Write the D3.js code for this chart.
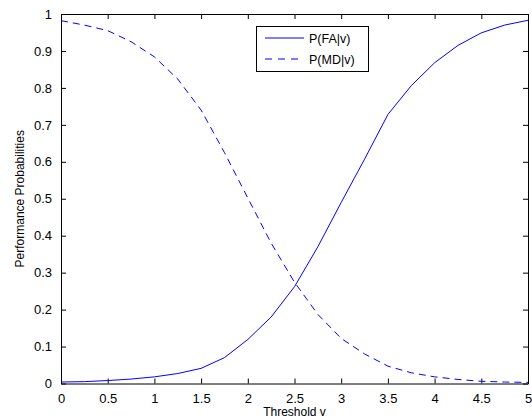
<!DOCTYPE html>
<html>
<head>
<meta charset="utf-8">
<script src="https://cdn.jsdelivr.net/npm/d3@7"></script>
<style>
  html, body { margin: 0; padding: 0; background: #fff; }
  svg { display: block; font-family: "Liberation Sans", Arial, Helvetica, sans-serif; }
</style>
</head>
<body>
<svg id="chart" width="532" height="420"></svg>
<script>
// Threshold values and the two performance probabilities
const thresholds = [0, 0.25, 0.5, 0.75, 1, 1.25, 1.5, 1.75, 2, 2.25, 2.5, 2.75, 3, 3.25, 3.5, 3.75, 4, 4.25, 4.5, 4.75, 5];
const pFalseAlarm = [0.004, 0.005, 0.008, 0.012, 0.018, 0.027, 0.041, 0.070, 0.119, 0.180, 0.262, 0.370, 0.490, 0.607, 0.728, 0.806, 0.868, 0.915, 0.949, 0.970, 0.983];
const pMissedDetection = [0.982, 0.970, 0.955, 0.925, 0.884, 0.824, 0.740, 0.625, 0.502, 0.380, 0.274, 0.187, 0.122, 0.080, 0.047, 0.029, 0.018, 0.011, 0.006, 0.004, 0.003];
const xTicks = [0, 0.5, 1, 1.5, 2, 2.5, 3, 3.5, 4, 4.5, 5];
const yTicks = [0, 0.1, 0.2, 0.3, 0.4, 0.5, 0.6, 0.7, 0.8, 0.9, 1];
const seriesNames = ["P(FA|v)", "P(MD|v)"];

const svg = d3.select("#chart");
const plot = { left: 61, right: 528, top: 14, bottom: 383.5 };

const x = d3.scaleLinear().domain([0, 5]).range([plot.left, plot.right]);
const y = d3.scaleLinear().domain([0, 1]).range([plot.bottom, plot.top]);

const tickLen = 5;
const dashPattern = "7,5";
const fmt = d => d3.format("")(d);

// Axes: ticks point inward, box closed on all sides
const bottomAxis = d3.axisBottom(x).tickValues(xTicks).tickFormat(fmt).tickSizeInner(-tickLen).tickSizeOuter(0).tickPadding(10);
const topAxis = d3.axisTop(x).tickValues(xTicks).tickFormat("").tickSizeInner(-tickLen).tickSizeOuter(0);
const leftAxis = d3.axisLeft(y).tickValues(yTicks).tickFormat(fmt).tickSizeInner(-tickLen).tickSizeOuter(0).tickPadding(9);
const rightAxis = d3.axisRight(y).tickValues(yTicks).tickFormat("").tickSizeInner(-tickLen).tickSizeOuter(0);

function styleAxis(g) {
  g.select(".domain").attr("stroke", "#000").attr("stroke-width", 1);
  g.selectAll(".tick line").attr("stroke", "#000");
  g.selectAll("text").attr("fill", "#000").style("font-size", "13px")
    .style("font-family", "'Liberation Sans', Arial, sans-serif");
}

svg.append("g").attr("transform", `translate(0,${plot.bottom})`).call(bottomAxis).call(styleAxis);
svg.append("g").attr("transform", `translate(0,${plot.top})`).call(topAxis).call(styleAxis);
svg.append("g").attr("transform", `translate(${plot.left},0)`).call(leftAxis).call(styleAxis);
svg.append("g").attr("transform", `translate(${plot.right},0)`).call(rightAxis).call(styleAxis);

// Curves
const line = d3.line().x((d, i) => x(thresholds[i])).y(d => y(d));

svg.append("path")
  .datum(pFalseAlarm)
  .attr("d", line)
  .attr("fill", "none")
  .attr("stroke", "#0000ff")
  .attr("stroke-width", 1);

svg.append("path")
  .datum(pMissedDetection)
  .attr("d", line)
  .attr("fill", "none")
  .attr("stroke", "#0000ff")
  .attr("stroke-width", 1)
  .attr("stroke-dasharray", dashPattern);

// Axis titles
svg.append("text")
  .attr("x", (plot.left + plot.right) / 2)
  .attr("y", 416)
  .attr("text-anchor", "middle")
  .style("font-size", "12px")
  .text("Threshold v");

svg.append("text")
  .attr("transform", `translate(24,${(plot.top + plot.bottom) / 2}) rotate(-90)`)
  .attr("text-anchor", "middle")
  .style("font-size", "12px")
  .text("Performance Probabilities");

// Legend
const legend = svg.append("g");
legend.append("rect")
  .attr("x", 256.5).attr("y", 26.5)
  .attr("width", 112).attr("height", 45)
  .attr("fill", "#fff").attr("stroke", "#000").attr("stroke-width", 1);

const rows = [
  { name: seriesNames[0], dash: null, y: 38 },
  { name: seriesNames[1], dash: "7,6", y: 59 }
];
rows.forEach(r => {
  legend.append("line")
    .attr("x1", 265).attr("x2", 304)
    .attr("y1", r.y).attr("y2", r.y)
    .attr("stroke", "#0000ff").attr("stroke-width", 1)
    .attr("stroke-dasharray", r.dash);
  legend.append("text")
    .attr("x", 309).attr("y", r.y + 4.5)
    .style("font-size", "12.5px")
    .text(r.name);
});
</script>
</body>
</html>
